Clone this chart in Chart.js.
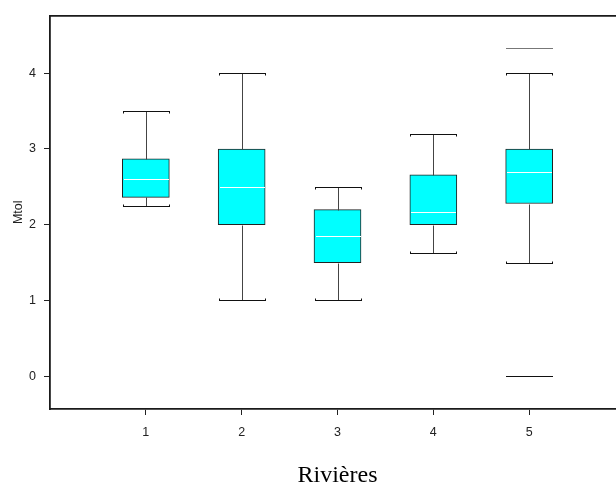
<!DOCTYPE html>
<html><head><meta charset="utf-8">
<script src="https://cdn.jsdelivr.net/npm/chart.js@4"></script>
<style>html,body{margin:0;padding:0;background:#fff;overflow:hidden;}canvas{display:block}</style>
</head><body>
<canvas id="c" width="626" height="487"></canvas>
<script>
// ---- data ----
const categories  = [1, 2, 3, 4, 5];
const whiskerLow  = [2.25, 1.0, 1.0, 1.62, 1.5];
const q1          = [2.36, 2.0, 1.5, 2.0, 2.28];
const median      = [2.6, 2.5, 1.85, 2.17, 2.69];
const q3          = [2.87, 3.0, 2.2, 2.66, 3.0];
const whiskerHigh = [3.5, 4.0, 2.5, 3.2, 4.0];
const outliers    = [[], [], [], [], [4.33, 0]];
const yTicks = [0, 1, 2, 3, 4];
const xTicks = [1, 2, 3, 4, 5];

Chart.defaults.font.family = '"Liberation Sans", Arial, sans-serif';

const boxPlugin = {
  id: 'boxwhisk',
  afterDatasetsDraw(chart) {
    const { ctx, scales: { x, y } } = chart;
    const meta = chart.getDatasetMeta(0);
    const py = v => Math.round(y.getPixelForValue(v)) + 0.5;
    const seg = (x1, y1, x2, y2) => { ctx.beginPath(); ctx.moveTo(x1, y1); ctx.lineTo(x2, y2); ctx.stroke(); };
    ctx.save();
    ctx.lineWidth = 1;
    categories.forEach((c, i) => {
      const half = meta.data[i].width / 2;
      const cx = Math.round(x.getPixelForValue(c)) + 0.5;
      const L = Math.round(cx - half), R = Math.round(cx + half);
      ctx.strokeStyle = '#444';
      // whiskers
      seg(cx, py(q3[i]), cx, py(whiskerHigh[i]));
      seg(cx, py(q1[i]), cx, py(whiskerLow[i]));
      // caps with end ticks toward the box
      ctx.strokeStyle = '#111';
      const hy = py(whiskerHigh[i]);
      seg(L, hy, R, hy);
      seg(L + 0.5, hy, L + 0.5, hy + 2);
      seg(R - 0.5, hy, R - 0.5, hy + 2);
      const ly = py(whiskerLow[i]);
      seg(L, ly, R, ly);
      seg(L + 0.5, ly, L + 0.5, ly - 2);
      seg(R - 0.5, ly, R - 0.5, ly - 2);
      // median
      ctx.strokeStyle = '#ffffff';
      const my = py(median[i]);
      seg(L + 1, my, R - 1, my);
      // outliers
      outliers[i].forEach(v => {
        ctx.strokeStyle = v > whiskerHigh[i] ? '#777' : '#111';
        const oy = py(v); seg(L, oy, R, oy);
      });
    });
    ctx.restore();
  }
};

new Chart(document.getElementById('c'), {
  type: 'bar',
  data: {
    datasets: [{
      data: categories.map((c, i) => ({ x: c, y: [q1[i], q3[i]] })),
      backgroundColor: '#00FFFF',
      borderColor: '#222',
      borderWidth: 1,
      borderSkipped: false,
      barThickness: 47
    }]
  },
  options: {
    responsive: false,
    animation: false,
    devicePixelRatio: 1,
    layout: { padding: { left: 0, right: 1, top: 0, bottom: 0 } },
    plugins: { legend: { display: false }, tooltip: { enabled: false } },
    scales: {
      x: {
        type: 'linear', position: 'bottom', min: 0, max: 6, offset: false,
        afterBuildTicks: s => { s.ticks = xTicks.map(v => ({ value: v })); },
        afterFit: s => { s.height = 78; },
        grid: { offset: false, drawOnChartArea: false, drawTicks: true, tickLength: 6, tickColor: '#222', tickWidth: 1 },
        border: { display: true, color: '#1a1a1a', width: 1.8 },
        ticks: { color: '#222', font: { size: 12.5 }, padding: 10, maxRotation: 0, autoSkip: false },
        title: { display: true, text: 'Rivières', color: '#000',
                 font: { family: '"Liberation Serif", "Times New Roman", serif', size: 24, lineHeight: 0.95 },
                 padding: { top: 0, bottom: 0 } }
      },
      xTop: {
        type: 'linear', position: 'top', min: 0, max: 6, offset: false,
        afterFit: s => { s.height = 14; },
        grid: { offset: false, drawOnChartArea: false, drawTicks: false },
        ticks: { display: false },
        border: { display: true, color: '#1a1a1a', width: 1.8 }
      },
      y: {
        type: 'linear', position: 'left', min: -0.434, max: 4.763,
        afterBuildTicks: s => { s.ticks = yTicks.map(v => ({ value: v })); },
        afterFit: s => { s.width = 50; },
        grid: { drawOnChartArea: false, drawTicks: true, tickLength: 6, tickColor: '#222', tickWidth: 1 },
        border: { display: true, color: '#1a1a1a', width: 1.8 },
        ticks: { color: '#222', font: { size: 12.5 }, padding: 8 },
        title: { display: true, text: 'Mtol', color: '#222', font: { size: 12.5 },
                 padding: { top: 11, bottom: 0 } }
      }
    }
  },
  plugins: [boxPlugin]
});
</script>
</body></html>
